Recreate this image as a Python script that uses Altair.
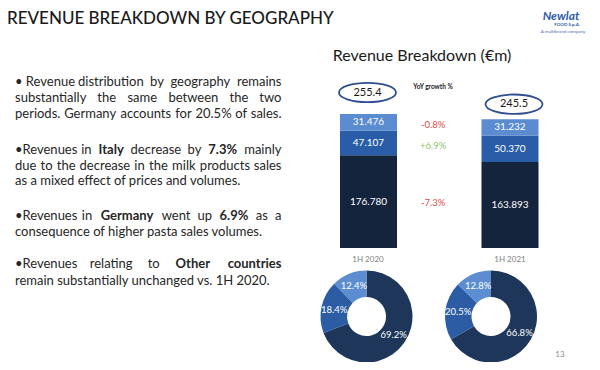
import altair as alt
import pandas as pd

# ---------------- data ----------------
periods = ["1H 2020", "1H 2021"]
regions = ["Italy", "Germany", "Other countries"]
italy = [176.780, 163.893]
germany = [47.107, 50.370]
other = [31.476, 31.232]
total_labels = ["255.4", "245.5"]
yoy_growth = ["-7.3%", "+6.9%", "-0.8%"]          # Italy, Germany, Other
share_2020 = [69.2, 18.4, 12.4]
share_2021 = [66.8, 20.5, 12.8]

title_text = "REVENUE BREAKDOWN BY GEOGRAPHY"
chart_title = "Revenue Breakdown (€m)"
yoy_header = "YoY growth %"
page_number = "13"

body_lines = [
    ("•\u00a0Revenue distribution by geography remains", True),
    ("substantially the same between the two", True),
    ("periods. Germany accounts for 20.5% of sales.", True),
    ("•Revenues in **Italy** decrease by **7.3%** mainly", True),
    ("due to the decrease in the milk products sales", True),
    ("as a mixed effect of prices and volumes.", False),
    ("•Revenues in **Germany** went up **6.9%** as a", True),
    ("consequence of higher pasta sales volumes.", False),
    ("•Revenues relating to **Other** **countries**", True),
    ("remain substantially unchanged vs. 1H 2020.", False),
]

# ---------------- layout ----------------
OX = OY = 8
W, H = 584, 354


def sx(v):
    return v - OX


def sy(v):
    return v - OY


FONT = "Lato"
DARK = "#262626"
line_y = [82, 98, 114, 150, 165.5, 181, 216, 232, 264, 280.5]
TX0, TX1 = 15, 281.5
BODY_FS = 13

CW = {
    'a': .50, 'b': .56, 'c': .46, 'd': .56, 'e': .52, 'f': .32, 'g': .50, 'h': .56,
    'i': .24, 'j': .24, 'k': .50, 'l': .24, 'm': .84, 'n': .56, 'o': .56, 'p': .56,
    'q': .56, 'r': .36, 's': .42, 't': .35, 'u': .56, 'v': .50, 'w': .76, 'x': .49,
    'y': .50, 'z': .45, 'A': .68, 'B': .64, 'C': .68, 'D': .75, 'E': .56, 'F': .54,
    'G': .73, 'H': .76, 'I': .29, 'O': .80, 'R': .63, 'S': .53, 'T': .60, 'V': .68,
    '.': .22, ',': .22, '%': .75, '•': .35, ' ': .19, '\u00a0': .19,
}


def est_w(word, fs, bold):
    w = sum(CW.get(c, 0.58) for c in word) * fs
    return w * (1.06 if bold else 1.0)


word_rows = []
for (line, just), yy in zip(body_lines, line_y):
    if not just:
        word_rows.append(dict(px=sx(TX0), py=sy(yy), text=line, bold=False, align="left"))
        continue
    toks = []
    for t in line.split(" "):
        b = t.startswith("**")
        toks.append((t.strip("*"), b))
    widths = [est_w(t, BODY_FS, b) for t, b in toks]
    gap = (TX1 - TX0 - sum(widths)) / (len(toks) - 1)
    pos = TX0
    for i, ((t, b), w) in enumerate(zip(toks, widths)):
        if i == 0:
            word_rows.append(dict(px=sx(TX0), py=sy(yy), text=t, bold=b, align="left"))
        elif i == len(toks) - 1:
            word_rows.append(dict(px=sx(TX1), py=sy(yy), text=t, bold=b, align="right"))
        else:
            word_rows.append(dict(px=sx(pos + w / 2), py=sy(yy), text=t, bold=b, align="center"))
        pos += w + gap
words = pd.DataFrame(word_rows)


def txt(df, **mark):
    return alt.Chart(df).mark_text(**mark).encode(
        x=alt.X("px:Q", scale=None, axis=None),
        y=alt.Y("py:Q", scale=None, axis=None),
        text="text:N",
    )


def single(text, x, y, **mark):
    return txt(pd.DataFrame([dict(px=sx(x), py=sy(y), text=text)]), **mark)


layers = []

# title + underline
layers.append(single(title_text, 7, 18.7, font=FONT, fontSize=17, fontWeight=500, color="#1a1a1a",
                     align="left", baseline="middle"))
layers.append(alt.Chart(pd.DataFrame([{}])).mark_rule(color="#8497B0", strokeWidth=1.5).encode(
    x=alt.value(sx(0)), x2=alt.value(sx(513)), y=alt.value(sy(32.5))))

# logo (approximation)
layers.append(single("Newlat", 561, 16, font=FONT, fontSize=12, fontStyle="italic", fontWeight="bold",
                     color="#2D5BA8", align="center", baseline="middle"))
layers.append(single("FOOD S.p.A.", 567, 25, font=FONT, fontSize=4.5, fontWeight="bold",
                     color="#2D5BA8", align="center", baseline="middle"))
layers.append(single("A multibrand company", 563, 31.5, font=FONT, fontSize=4.5,
                     color="#4A6FB0", align="center", baseline="middle"))

# body text
for (b, a), g in words.groupby(["bold", "align"]):
    layers.append(txt(g, font=FONT, fontSize=BODY_FS, color=DARK, align=a, baseline="middle",
                      fontWeight="bold" if b else "normal"))

# chart title
layers.append(single(chart_title, 422, 56, font=FONT, fontSize=16, color="#1a1a1a",
                     align="center", baseline="middle"))

# ---------------- stacked bars ----------------
rows = []
for pi, p in enumerate(periods):
    cum = 0.0
    for ri, (r, vals) in enumerate(zip(regions, [italy, germany, other])):
        v = vals[pi]
        rows.append(dict(period=p, region=r, value=v, order=ri, mid=cum + v / 2))
        cum += v
bars = pd.DataFrame(rows)
totals = pd.DataFrame(dict(period=periods,
                           total=[sum(v) for v in zip(italy, germany, other)],
                           label=total_labels))
max_total = float(totals["total"].max())

xscale = alt.Scale(type="point", domain=[periods[0], "YoY", periods[1]],
                   range=[sx(368.5), sx(510)], padding=0)
yscale = alt.Scale(domain=[0, max_total], range=[sy(248), sy(114)], nice=False, zero=True)
bar_colors = ["#15243D", "#2A5DA8", "#5B8BD0"]

layers.append(alt.Chart(bars).mark_bar(width=57).encode(
    x=alt.X("period:N", scale=xscale, axis=None),
    y=alt.Y("value:Q", stack="zero", scale=yscale, axis=None),
    color=alt.Color("region:N", scale=alt.Scale(domain=regions, range=bar_colors), legend=None),
    order=alt.Order("order:Q", sort="ascending"),
))
layers.append(alt.Chart(bars).mark_text(font=FONT, fontSize=10, color="white", baseline="middle").encode(
    x=alt.X("period:N", scale=xscale, axis=None),
    y=alt.Y("mid:Q", scale=yscale, axis=None),
    text=alt.Text("value:Q", format=".3f"),
))

ELLIPSE = "M-1,0A1,0.34,0,1,1,1,0A1,0.34,0,1,1,-1,0Z"
for p, xo, yo in [(periods[0], -1, -21.5), (periods[1], 4, -15)]:
    sub = alt.Chart(totals).transform_filter(alt.datum.period == p)
    layers.append(sub.mark_point(shape=ELLIPSE, size=57 * 57, filled=False, stroke="#2F4F8F",
                                 strokeWidth=1.8, opacity=1, xOffset=xo, yOffset=yo).encode(
        x=alt.X("period:N", scale=xscale, axis=None),
        y=alt.Y("total:Q", scale=yscale, axis=None),
    ))
    layers.append(sub.mark_text(font=FONT, fontSize=11, color="#1a1a1a", baseline="middle",
                                dx=xo, dy=yo).encode(
        x=alt.X("period:N", scale=xscale, axis=None),
        y=alt.Y("total:Q", scale=yscale, axis=None),
        text="label:N",
    ))

# YoY growth labels
growth = pd.DataFrame(dict(region=regions, label=yoy_growth))
growth["g"] = [(-1 if s.startswith("-") else 1) for s in yoy_growth]
growth["y"] = [bars.loc[bars.region == r, "mid"].mean() for r in regions]
growth["period"] = "YoY"
layers.append(single(yoy_header, 433, 87, font=FONT, fontSize=6.5, fontWeight="bold",
                     color="#1a1a1a", align="center", baseline="middle"))
layers.append(alt.Chart(growth).mark_text(font=FONT, fontSize=9.5, dx=-6, baseline="middle").encode(
    x=alt.X("period:N", scale=xscale, axis=None),
    y=alt.Y("y:Q", scale=yscale, axis=None),
    text="label:N",
    color=alt.condition("datum.g < 0", alt.value("#DD4B4B"), alt.value("#8FC46E")),
))

# ---------------- donuts ----------------
donut_colors = ["#1D3659", "#2B5CA4", "#5C8DD0"]
for shares, cx in [(share_2020, 366.5), (share_2021, 491)]:
    df = pd.DataFrame(dict(region=regions, share=shares, order=list(range(3)),
                           label=[f"{s:.1f}%" for s in shares]))
    base = alt.Chart(df).encode(
        theta=alt.Theta("share:Q", stack=True),
        order=alt.Order("order:Q", sort="ascending"),
        x=alt.value(sx(cx)), y=alt.value(sy(316.5)),
    )
    layers.append(base.mark_arc(outerRadius=46, innerRadius=19.5).encode(
        color=alt.Color("region:N", scale=alt.Scale(domain=regions, range=donut_colors), legend=None)))
    layers.append(base.mark_text(radius=33, font=FONT, fontSize=9.5, color="white").encode(
        text="label:N"))

for p, lx in zip(periods, [368, 510]):
    layers.append(single(p, lx, 260, font=FONT, fontSize=8, color="#7f7f7f",
                         align="center", baseline="middle"))

layers.append(single(page_number, 560, 355, font=FONT, fontSize=8, color="#8c8c8c",
                     align="center", baseline="middle"))

chart = alt.layer(*layers).resolve_scale(
    x="independent", y="independent", color="independent", theta="independent"
).properties(
    width=W, height=H, autosize=alt.AutoSizeParams(type="none"), padding=0,
    background="white",
).configure_view(stroke=None)

chart.save("out.html", embed_options={"renderer": "svg", "actions": False})
